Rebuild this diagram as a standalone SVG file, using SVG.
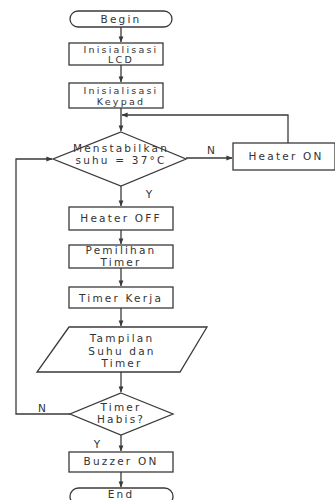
<svg xmlns="http://www.w3.org/2000/svg" width="335" height="500" viewBox="0 0 335 500">
<defs>
<marker id="ah" viewBox="0 0 8 8" refX="7.5" refY="4" markerWidth="6" markerHeight="6" orient="auto" markerUnits="userSpaceOnUse">
<path d="M0,0.8 L8,4 L0,7.2 z" fill="#3a3a3a"/>
</marker>
<style>
.s{fill:#fff;stroke:#3a3a3a;stroke-width:1.3}
.c{fill:none;stroke:#3a3a3a;stroke-width:1.3}
.t{font-family:"DejaVu Sans",sans-serif;font-size:10.5px;fill:#333;text-anchor:middle;letter-spacing:2.2px}
.t2{font-family:"DejaVu Sans",sans-serif;font-size:9.5px;fill:#333;text-anchor:middle;letter-spacing:2.2px}
.l{font-family:"DejaVu Sans",sans-serif;font-size:10.5px;fill:#333;text-anchor:middle}
</style>
</defs>
<rect width="335" height="500" fill="#fff"/>
<g id="connectors">
<path class="c" d="M121,27 V42" marker-end="url(#ah)"/>
<path class="c" d="M121,65 V82" marker-end="url(#ah)"/>
<path class="c" d="M121,108 V131" marker-end="url(#ah)"/>
<path class="c" d="M288,143 V115 H122" marker-end="url(#ah)"/>
<path class="c" d="M186,158 H232" marker-end="url(#ah)"/>
<path class="c" d="M121,186 V206" marker-end="url(#ah)"/>
<path class="c" d="M121,230 V244" marker-end="url(#ah)"/>
<path class="c" d="M121,268 V286" marker-end="url(#ah)"/>
<path class="c" d="M121,308 V326" marker-end="url(#ah)"/>
<path class="c" d="M121,372 V392" marker-end="url(#ah)"/>
<path class="c" d="M70,414 H16 V159 H52" marker-end="url(#ah)"/>
<path class="c" d="M121,435 V451" marker-end="url(#ah)"/>
<path class="c" d="M121,472 V487" marker-end="url(#ah)"/>
<text class="l" x="211" y="154">N</text>
<text class="l" x="149" y="198">Y</text>
<text class="l" x="42" y="412">N</text>
<text class="l" x="97" y="448">Y</text>
</g>
<g id="begin">
<rect class="s" x="70" y="11" width="102" height="16" rx="8"/>
<text class="t" x="121" y="23">Begin</text>
</g>
<g id="init-lcd">
<rect class="s" x="69" y="43" width="94" height="22"/>
<text class="t2" x="121" y="52.5">Inisialisasi</text>
<text class="t2" x="121" y="63">LCD</text>
</g>
<g id="init-keypad">
<rect class="s" x="69" y="83" width="94" height="25"/>
<text class="t2" x="121" y="94">Inisialisasi</text>
<text class="t2" x="121" y="105">Keypad</text>
</g>
<g id="decision-suhu">
<polygon class="s" points="121,132 186,159 121,186 53,159"/>
<text class="t" x="121" y="152">Menstabilkan</text>
<text class="t" x="121" y="164">suhu = 37°C</text>
</g>
<g id="heater-on">
<rect class="s" x="233" y="143" width="102" height="27"/>
<text class="t" x="286" y="160">Heater ON</text>
</g>
<g id="heater-off">
<rect class="s" x="69" y="207" width="104" height="23"/>
<text class="t" x="121" y="222">Heater OFF</text>
</g>
<g id="pemilihan-timer">
<rect class="s" x="69" y="245" width="104" height="23"/>
<text class="t" x="121" y="254">Pemilihan</text>
<text class="t" x="121" y="266">Timer</text>
</g>
<g id="timer-kerja">
<rect class="s" x="69" y="287" width="104" height="21"/>
<text class="t" x="121" y="302">Timer Kerja</text>
</g>
<g id="tampilan">
<polygon class="s" points="69,327 207,327 180,372 37,372"/>
<text class="t" x="122" y="342">Tampilan</text>
<text class="t" x="122" y="355">Suhu dan</text>
<text class="t" x="122" y="367">Timer</text>
</g>
<g id="decision-timer">
<polygon class="s" points="121,393 173,414 121,435 70,414"/>
<text class="t" x="121" y="411">Timer</text>
<text class="t" x="121" y="423">Habis?</text>
</g>
<g id="buzzer-on">
<rect class="s" x="69" y="452" width="104" height="20"/>
<text class="t" x="121" y="465">Buzzer ON</text>
</g>
<g id="end">
<rect class="s" x="70" y="488" width="103" height="17" rx="8.5"/>
<text class="t" x="121" y="498">End</text>
</g>
</svg>
